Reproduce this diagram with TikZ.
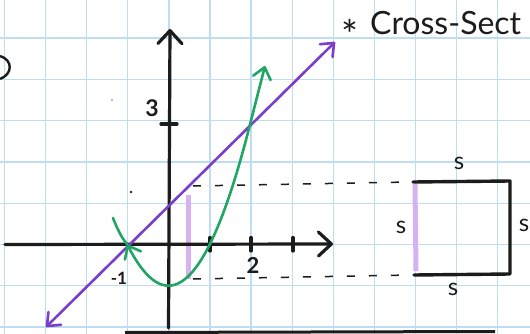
\documentclass[tikz,border=0pt]{standalone}
\usepackage{fontspec}
\setmainfont{Lato}
\usetikzlibrary{arrows.meta}
\definecolor{gridblue}{RGB}{190,220,242}
\definecolor{pen}{RGB}{28,28,28}
\definecolor{violetpen}{RGB}{122,62,200}
\definecolor{greenpen}{RGB}{32,165,98}
\definecolor{lilac}{RGB}{214,178,240}
\tikzset{
  gridline/.style={gridblue, line width=1.3pt},
  axisline/.style={pen, line width=3.2pt, line cap=round},
  axisarrow/.style={-{Straight Barb[length=13pt,width=24pt,round]}},
  dashline/.style={pen, line width=1.5pt, dash pattern=on 8pt off 14pt},
  curvepen/.style={line width=2.6pt, line cap=round},
  smallbarb/.style={{Straight Barb[length=11pt,width=18pt,round]}-{Straight Barb[length=11pt,width=18pt,round]}},
  highlight/.style={lilac, line width=5pt},
  lbl/.style={inner sep=0pt, text=pen},
}
\begin{document}
\begin{tikzpicture}[x=1pt,y=-1pt]
\useasboundingbox (0,0) rectangle (530,334);
\clip (0,0) rectangle (530,334);
\fill[white] (0,0) rectangle (530,334);
% graph paper
\foreach \i in {0,...,12} \draw[gridline] ({4.5+41.1*\i},0) -- ({4.5+41.1*\i},334);
\foreach \j in {-1,0,...,7} \draw[gridline] (0,{38+41.3*\j}) -- (530,{38+41.3*\j});
% highlights
\draw[highlight] (188,195) -- (188,279);
\draw[highlight] (415,184) -- (416,271);
% dashed projection lines
\coordinate (dt1) at (193,186); \coordinate (dt2) at (409,182);
\coordinate (db1) at (193,279); \coordinate (db2) at (411,275);
\draw[dashline] (dt1) -- (dt2);
\draw[dashline] (db1) -- (db2);
% axes
\coordinate (ybot) at (168.5,328); \coordinate (ytop) at (170,29);
\coordinate (xl) at (5,244.5); \coordinate (xr) at (333,244);
\draw[axisline, axisarrow] (ybot) -- (ytop);
\draw[axisline, axisarrow] (xl) -- (xr);
\draw[axisline] (161,124) -- (177,124);
\foreach \x in {210,251,293} \draw[axisline] (\x,237.5) -- (\x,251);
% purple line y = x + 1
\coordinate (p1) at (46,327); \coordinate (p2) at (335,42);
\draw[violetpen, curvepen, smallbarb] (p1) -- (p2);
% green parabola y = x^2 - 1
\draw[greenpen, curvepen, smallbarb] (113,218) .. controls (117,228) and (121,237) .. (127.3,244.5)
   plot[domain=-1:2, samples=40, smooth] ({168.5+41.2*\x},{244.5-41.2*(\x*\x-1)})
   -- (265,66);
% square cross-section
\draw[pen, line width=3.4pt, line join=round, line cap=round] (413,182) -- (510,181) -- (510,274) -- (414,275);
% bottom edge line
\draw[pen, line width=3pt] (125,332.5) -- (495,331.5);
% partial bracket on the left
\draw[pen, line width=2.4pt] (0,56) .. controls (13,60) and (13,74) .. (0,79);
% stray pencil dots
\fill[pen!60] (112,100) circle (0.9);
\fill[pen] (131,192) circle (1.3);
% labels
\node[lbl, font=\bfseries\fontsize{23}{26}\selectfont] (l3) at (152,108) {3};
\node[lbl, font=\bfseries\fontsize{22}{26}\selectfont] (l2) at (253,265) {2};
\node[lbl, font=\bfseries\fontsize{17}{20}\selectfont] (lm1) at (119,278) {-1};
\node[lbl, font=\fontsize{24}{28}\selectfont] (st) at (459,163) {s};
\node[lbl, font=\fontsize{24}{28}\selectfont] (sl) at (401,227) {s};
\node[lbl, font=\fontsize{24}{28}\selectfont] (sr) at (524,225) {s};
\node[lbl, font=\fontsize{24}{28}\selectfont] (sb) at (453,289) {s};
\node[lbl, font=\fontsize{40}{44}\selectfont] (star) at (350,34) {*};
\node[lbl, anchor=base west, font=\fontsize{32}{36}\selectfont] (title) at (370,35) {Cross-Sect};
\end{tikzpicture}
\end{document}
